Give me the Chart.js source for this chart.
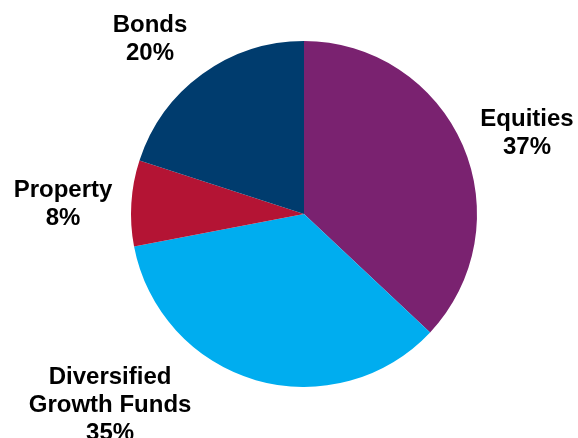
<!DOCTYPE html>
<html>
<head>
<meta charset="utf-8">
<script src="https://cdn.jsdelivr.net/npm/chart.js@4/dist/chart.umd.min.js"></script>
<style>
  html, body { margin: 0; padding: 0; background: #ffffff; }
  #wrap { width: 578px; height: 438px; position: relative; }
</style>
</head>
<body>
<div id="wrap"><canvas id="c" width="578" height="438"></canvas></div>
<script>
// Data
const categories = ["Equities", "Diversified Growth Funds", "Property", "Bonds"];
const shares = [37, 35, 8, 20];
const labelLines = [["Equities"], ["Diversified", "Growth Funds"], ["Property"], ["Bonds"]];
const sliceColors = ["#7A2270", "#00ADEF", "#B41434", "#003C6E"];

// Label anchor (first-line baseline) offsets relative to pie centre, in units of radius (style only)
const labelOffsets = [[1.289, -0.509], [-1.121, 0.98], [-1.393, -0.098], [-0.89, -1.052]];

const labelPlugin = {
  id: 'sliceLabels',
  afterDraw(chart) {
    const ctx = chart.ctx;
    const meta = chart.getDatasetMeta(0);
    const arc0 = meta.data[0];
    const cx = arc0.x, cy = arc0.y, r = arc0.outerRadius;
    ctx.save();
    ctx.fillStyle = '#000000';
    ctx.font = 'bold 24px "Liberation Sans", Arial, sans-serif';
    ctx.textAlign = 'center';
    ctx.textBaseline = 'alphabetic';
    const lh = 28;
    meta.data.forEach((arc, i) => {
      const lines = labelLines[i].concat([shares[i] + '%']);
      const x = cx + labelOffsets[i][0] * r;
      const y = cy + labelOffsets[i][1] * r;
      lines.forEach((t, k) => ctx.fillText(t, x, y + k * lh));
    });
    ctx.restore();
  }
};

new Chart(document.getElementById('c'), {
  type: 'pie',
  data: {
    labels: categories,
    datasets: [{
      data: shares,
      backgroundColor: sliceColors,
      borderWidth: 0
    }]
  },
  options: {
    responsive: false,
    animation: false,
    layout: { padding: { left: 131, right: 101, top: 41, bottom: 51 } },
    plugins: {
      legend: { display: false },
      tooltip: { enabled: false }
    }
  },
  plugins: [labelPlugin]
});
</script>
</body>
</html>
